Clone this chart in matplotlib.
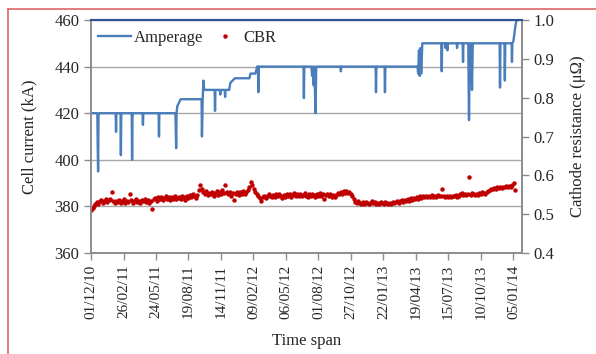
import pandas as pd
import numpy as np
import matplotlib
matplotlib.use("Agg")
import matplotlib.pyplot as plt
from matplotlib.lines import Line2D

plt.rcParams['font.family'] = ['Liberation Serif', 'DejaVu Serif']

START = pd.Timestamp("2010-12-01")

# Amperage (kA): breakpoints, as (day offset from start, value)
amp_days = [0, 17, 18, 19, 20, 22, 66, 67, 68, 79, 80, 81, 109, 110, 111, 112,
            138, 139, 140, 181, 182, 183, 226, 228, 229, 231, 240,
            296, 297, 299, 301, 303, 331, 332, 333, 345, 346, 347, 358, 359, 360,
            370, 373, 385, 424, 427, 440, 445, 447, 448, 449,
            569, 570, 571, 590, 592, 594, 596, 598, 601, 603, 668, 669, 670,
            762, 763, 764, 786, 787, 788,
            874, 876, 878, 880, 882, 884, 887, 938, 939, 940, 948, 949, 950,
            953, 954, 955, 979, 980, 981, 995, 996, 997,
            1010, 1012, 1014, 1016, 1018, 1020, 1022, 1094, 1095, 1096,
            1107, 1108, 1109, 1126, 1127, 1128, 1131, 1135, 1139, 1141]
amp_ka = [420, 420, 405, 395, 419, 420, 420, 412, 420, 420, 402, 420, 420, 400, 418, 420,
          420, 415, 420, 420, 410, 420, 420, 405, 420, 423, 426,
          426, 410, 426, 434, 430, 430, 421, 430, 430, 428, 430, 430, 427, 430,
          430, 433, 435, 435, 437, 437, 440, 440, 429, 440,
          440, 426.5, 440, 440, 436, 440, 432, 440, 420, 440, 440, 438, 440,
          440, 429, 440, 440, 429, 440,
          440, 437, 447, 436, 448, 437, 450, 450, 438, 450, 450, 448, 450,
          450, 447, 450, 450, 448, 450, 450, 442, 450,
          450, 417, 450, 434, 450, 430, 450, 450, 431, 450,
          450, 434, 450, 450, 442, 450, 451, 456, 460, 460]

# CBR (micro-ohm), one reading every 4 days from the start date
cbr_values = [
    0.510, 0.516, 0.522, 0.527, 0.531, 0.525, 0.533, 0.536, 0.529, 0.534, 0.538, 0.531,
    0.536, 0.540, 0.556, 0.533, 0.528, 0.535, 0.531, 0.537, 0.529, 0.534, 0.538, 0.530,
    0.535, 0.532, 0.553, 0.536, 0.530, 0.534, 0.538, 0.531, 0.535, 0.529, 0.537, 0.533,
    0.539, 0.532, 0.536, 0.530, 0.534, 0.514, 0.538, 0.541, 0.535, 0.543, 0.539, 0.545,
    0.537, 0.542, 0.546, 0.539, 0.543, 0.536, 0.544, 0.540, 0.547, 0.538, 0.542, 0.545,
    0.539, 0.548, 0.543, 0.537, 0.546, 0.541, 0.549, 0.544, 0.551, 0.546, 0.542, 0.550,
    0.562, 0.574, 0.566, 0.558, 0.553, 0.560, 0.549, 0.555, 0.551, 0.558, 0.547, 0.554,
    0.559, 0.550, 0.556, 0.552, 0.561, 0.555, 0.575, 0.558, 0.551, 0.557, 0.548, 0.554,
    0.536, 0.552, 0.558, 0.550, 0.556, 0.553, 0.559, 0.551, 0.557, 0.562, 0.571, 0.583,
    0.574, 0.566, 0.558, 0.552, 0.546, 0.541, 0.535, 0.543, 0.548, 0.541, 0.546, 0.552,
    0.547, 0.543, 0.550, 0.545, 0.551, 0.547, 0.553, 0.546, 0.541, 0.549, 0.544, 0.551,
    0.547, 0.553, 0.545, 0.550, 0.554, 0.546, 0.551, 0.548, 0.552, 0.546, 0.550, 0.555,
    0.548, 0.544, 0.551, 0.547, 0.553, 0.549, 0.545, 0.552, 0.548, 0.554, 0.546, 0.551,
    0.540, 0.549, 0.553, 0.547, 0.551, 0.545, 0.550, 0.543, 0.549, 0.554, 0.551, 0.557,
    0.553, 0.559, 0.555, 0.560, 0.554, 0.558, 0.551, 0.546, 0.538, 0.532, 0.528, 0.533,
    0.529, 0.526, 0.531, 0.527, 0.532, 0.529, 0.525, 0.530, 0.533, 0.528, 0.531, 0.527,
    0.530, 0.526, 0.532, 0.529, 0.527, 0.531, 0.528, 0.525, 0.530, 0.527, 0.532, 0.528,
    0.531, 0.534, 0.530, 0.533, 0.536, 0.532, 0.537, 0.534, 0.539, 0.535, 0.541, 0.537,
    0.542, 0.539, 0.544, 0.540, 0.546, 0.542, 0.547, 0.543, 0.546, 0.544, 0.548, 0.545,
    0.549, 0.544, 0.547, 0.545, 0.549, 0.546, 0.548, 0.565, 0.547, 0.544, 0.548, 0.545,
    0.547, 0.544, 0.548, 0.546, 0.549, 0.545, 0.548, 0.551, 0.554, 0.550, 0.553, 0.549,
    0.552, 0.597, 0.550, 0.554, 0.551, 0.549, 0.553, 0.550, 0.555, 0.552, 0.558, 0.555,
    0.552, 0.557, 0.560, 0.563, 0.566, 0.564, 0.568, 0.566, 0.569, 0.567, 0.570, 0.568,
    0.571, 0.569, 0.572, 0.570, 0.573, 0.571, 0.574, 0.579, 0.562]

tick_labels = ["01/12/10", "26/02/11", "24/05/11", "19/08/11", "14/11/11", "09/02/12",
               "06/05/12", "01/08/12", "27/10/12", "22/01/13", "19/04/13", "15/07/13",
               "10/10/13", "05/01/14"]

amp_dates = START + pd.to_timedelta(amp_days, unit="D")
cbr_dates = pd.date_range(START, periods=len(cbr_values), freq="4D")
tick_dates = pd.to_datetime(tick_labels, format="%d/%m/%y")

blue = "#4a7ebb"
red = "#c00000"
grey = "#8c8c8c"
txt = "#262626"

fig = plt.figure(figsize=(5.96, 3.54), dpi=100)
ax = fig.add_axes([0.1527, 0.2853, 0.7226, 0.6582])
ax2 = ax.twinx()

ax.plot(amp_dates, amp_ka, color=blue, lw=1.7, zorder=3, label="Amperage")
ax2.plot(cbr_dates, cbr_values, "o", color=red, ms=3.2, mew=0, label="CBR")

ax.set_ylim(360, 460)
ax.set_yticks(range(360, 461, 20))
ax2.set_ylim(0.4, 1.0)
ax2.set_yticks(np.arange(0.4, 1.01, 0.1))
ax2.set_yticklabels(["0.4", "0.5", "0.6", "0.7", "0.8", "0.9", "1.0"])
ax.set_xlim(START, START + pd.Timedelta(days=1153))
ax.set_xticks(tick_dates)
ax.set_xticklabels(tick_labels, rotation=90)

ax.grid(axis="y", color="#a6a6a6", lw=1)
ax.set_axisbelow(True)

for a in (ax, ax2):
    for s in ("left", "right", "bottom"):
        a.spines[s].set_color(grey)
        a.spines[s].set_linewidth(1.2)
    a.spines["top"].set_color("#2f5597")
    a.spines["top"].set_linewidth(1.5)
    a.tick_params(colors=grey, labelcolor=txt, length=5, width=1)

ax.tick_params(axis="y", labelsize=12)
ax.tick_params(axis="x", labelsize=11)
ax2.tick_params(axis="y", labelsize=12)

ax.set_ylabel("Cell current (kA)", fontsize=12, color=txt, labelpad=12)
ax2.set_ylabel("Cathode resistance (μΩ)", fontsize=12, color=txt, labelpad=11)
ax.set_xlabel("Time span", fontsize=12, color=txt, labelpad=10)

h1, l1 = ax.get_legend_handles_labels()
h2, l2 = ax2.get_legend_handles_labels()
leg = ax.legend(h1 + h2, l1 + l2, loc="upper left", bbox_to_anchor=(0.0, 0.985),
                ncol=2, frameon=False, fontsize=12, handlelength=2.0,
                handletextpad=0.15, columnspacing=0.3, borderaxespad=0.2,
                borderpad=0.2)
for t in leg.get_texts():
    t.set_color(txt)

# red frame of the source figure (top and left edges)
fig.add_artist(Line2D([0.0134, 0.0134], [0.0, 0.975], color="#e06666", lw=1.2))
fig.add_artist(Line2D([0.0134, 1.0], [0.975, 0.975], color="#e06666", lw=1.2))

fig.savefig("out.png", dpi=100)
